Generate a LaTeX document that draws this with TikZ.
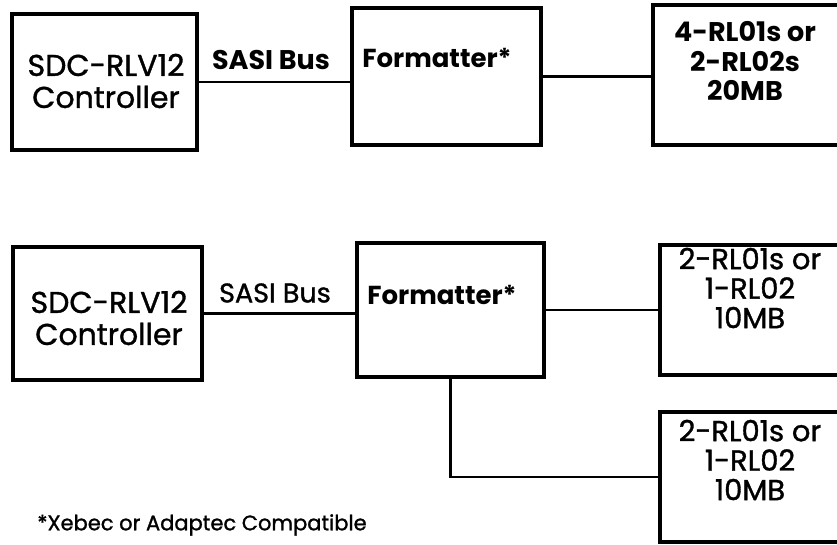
\documentclass[tikz,border=0pt]{standalone}
\usepackage{fontspec}
\setmainfont{Poppins}
\newfontfamily\medium{Poppins}[FakeBold=1.2]
\usetikzlibrary{positioning}

\tikzset{
  blk/.style={draw, line width=3.6pt, inner sep=0pt},
  bus/.style={line width=2.2pt},
  txt/.style={align=center, inner sep=0pt, font=\fontsize{30}{32}\selectfont\medium},
  disktxt/.style={align=center, inner sep=0pt, font=\fontsize{29}{29.5}\selectfont\medium},
}

\begin{document}
\begin{tikzpicture}[x=1pt,y=-1pt]
\useasboundingbox[fill=white] (0,0) rectangle (837,545);
% upper system: one formatter, four RL01s or two RL02s
\node[blk, minimum width=185pt, minimum height=136pt] (ctrlA) at (104.5,82) {};
\node[blk, minimum width=189pt, minimum height=137pt] (fmtA) at (446.5,76.5) {};
\node[blk, minimum width=187pt, minimum height=140pt] (diskA) at (746.5,75) {};
\node[txt] (ctrlA-txt) at (106,81) {SDC-RLV12\\Controller};
\node[txt, font=\fontsize{27}{29}\selectfont\bfseries] (busA-txt) at (271,60) {SASI Bus};
\node[txt, font=\fontsize{26}{29}\selectfont\bfseries] (fmtA-txt) at (437,58) {Formatter*};
\node[disktxt, font=\fontsize{27}{29.5}\selectfont\bfseries] (diskA-txt) at (745,61) {4-RL01s or\\2-RL02s\\20MB};
\draw[bus] (ctrlA.east) -- (ctrlA.east -| fmtA.west);
\draw[bus] (fmtA.east) -- (fmtA.east -| diskA.west);
% lower system: one formatter, two drive groups
\node[blk, minimum width=189pt, minimum height=133pt] (ctrlB) at (107.5,313.5) {};
\node[blk, minimum width=187pt, minimum height=134pt] (fmtB) at (450.5,310) {};
\node[blk, minimum width=180pt, minimum height=130pt] (diskB) at (750,310) {};
\node[blk, minimum width=180pt, minimum height=130pt] (diskC) at (750,477) {};
\node[txt] (ctrlB-txt) at (109,318) {SDC-RLV12\\Controller};
\node[txt, font=\fontsize{27}{29}\selectfont\medium] (busB-txt) at (275,293) {SASI Bus};
\node[txt, font=\fontsize{26}{29}\selectfont\bfseries] (fmtB-txt) at (442,295) {Formatter*};
\node[disktxt] (diskB-txt) at (750,288) {2-RL01s or\\1-RL02\\10MB};
\node[disktxt] (diskC-txt) at (750,460) {2-RL01s or\\1-RL02\\10MB};
\draw[bus] (ctrlB.east) -- (ctrlB.east -| fmtB.west);
\draw[bus] (fmtB.east) -- (fmtB.east -| diskB.west);
\draw[bus] (fmtB.south) |- (diskC.west);
% footnote
\node[txt, font=\fontsize{21}{24}\selectfont\medium] (note) at (202,525) {*Xebec or Adaptec Compatible};
\end{tikzpicture}
\end{document}
